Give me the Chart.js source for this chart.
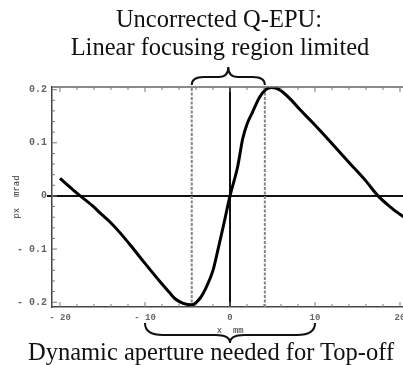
<!DOCTYPE html>
<html>
<head>
<meta charset="utf-8">
<script src="https://cdn.jsdelivr.net/npm/chart.js@4/dist/chart.umd.min.js"></script>
<style>
  html, body { margin: 0; padding: 0; background: #fff; }
  #wrap { position: relative; width: 403px; height: 365px; overflow: hidden; }
  #chart { position: absolute; left: 0; top: 0; }
  .note { position: absolute; width: 0; font-family: "Liberation Serif", "Times New Roman", serif; font-size: 24.5px; line-height: 28px; color: #111; white-space: nowrap; }
  .note span { position: absolute; transform: translateX(-50%); }
</style>
</head>
<body>
<div id="wrap">
  <canvas id="chart" width="440" height="365"></canvas>
  <div class="note" style="top:5px; left:219px;"><span>Uncorrected Q-EPU:</span></div>
  <div class="note" style="top:33px; left:220px;"><span>Linear focusing region limited</span></div>
  <div class="note" style="top:338px; left:211px;"><span>Dynamic aperture needed for Top-off</span></div>
</div>
<script>
// valeurs
const curveX = [-20, -18.5, -17.6, -16, -15.3, -14, -12.9, -11.4, -10, -8.2, -7, -6.5, -5.5, -4.5, -3.5, -2.8, -2, -1.4, -0.8, 0, 0.9, 1.5, 2.0, 2.6, 3.5, 4.2, 4.9, 5.8, 7.3, 8.2, 9.6, 11, 12.2, 14, 16.1, 17.3, 18.8, 20.2, 21];
const curveY = [0.033, 0.012, 0, -0.021, -0.032, -0.051, -0.07, -0.099, -0.127, -0.162, -0.184, -0.193, -0.202, -0.205, -0.192, -0.172, -0.14, -0.1, -0.058, 0, 0.055, 0.108, 0.135, 0.156, 0.186, 0.2, 0.204, 0.2, 0.179, 0.163, 0.14, 0.116, 0.095, 0.063, 0.026, 0.002, -0.02, -0.037, -0.045];
const dashedX = [-4.5, 4.1];       // zone linéaire (accolade du haut)
const apertureX = [-10, 10];       // ouverture dynamique (accolade du bas)
const xTicks = [-20, -10, 0, 10, 20];
const yTicks = [-0.2, -0.1, 0, 0.1, 0.2];
const xRange = [-20.94, 21];
const yRange = [-0.209, 0.205];

const curve = curveX.map((x, i) => ({ x: x, y: curveY[i] }));

const fmt = v => v === 0 ? '0' : (v < 0 ? '- ' + Math.abs(v) : String(v));

// petite fonction pour l'accolade horizontale
function brace(ctx, x1, x2, yEnd, yBar, yTip) {
  const xm = (x1 + x2) / 2;
  const r = Math.abs(yBar - yEnd);
  ctx.beginPath();
  ctx.moveTo(x1, yEnd);
  ctx.quadraticCurveTo(x1, yBar, x1 + r * 1.5, yBar);
  ctx.lineTo(xm - r * 1.2, yBar);
  ctx.quadraticCurveTo(xm, yBar, xm, yTip);
  ctx.quadraticCurveTo(xm, yBar, xm + r * 1.2, yBar);
  ctx.lineTo(x2 - r * 1.5, yBar);
  ctx.quadraticCurveTo(x2, yBar, x2, yEnd);
  ctx.stroke();
}

const framePlugin = {
  id: 'frame',
  afterDraw(chart) {
    const { ctx, chartArea: a, scales: { x, y } } = chart;
    ctx.save();
    // cadre haut et droit
    ctx.strokeStyle = '#666';
    ctx.lineWidth = 1.5;
    ctx.beginPath();
    ctx.moveTo(a.left, a.top);
    ctx.lineTo(a.right, a.top);
    ctx.lineTo(a.right, a.bottom);
    ctx.stroke();
    // graduations internes
    ctx.strokeStyle = '#777';
    ctx.lineWidth = 1;
    ctx.beginPath();
    for (let v = -20; v <= 20.01; v += 2) {
      const px = x.getPixelForValue(v);
      const len = Math.abs(v % 10) < 0.01 ? 5 : 3;
      ctx.moveTo(px, a.bottom); ctx.lineTo(px, a.bottom - len);
      ctx.moveTo(px, a.top); ctx.lineTo(px, a.top + len);
    }
    for (let k = -10; k <= 10; k++) {
      const py = y.getPixelForValue(k * 0.02);
      const len = k % 5 === 0 ? 5 : 3;
      ctx.moveTo(a.left, py); ctx.lineTo(a.left + len, py);
    }
    ctx.stroke();
    // accolades
    ctx.strokeStyle = '#111';
    ctx.lineWidth = 2;
    brace(ctx, x.getPixelForValue(dashedX[0]), x.getPixelForValue(dashedX[1]), a.top - 2, a.top - 10, a.top - 20);
    brace(ctx, x.getPixelForValue(apertureX[0]), x.getPixelForValue(apertureX[1]), 323, 335, 343);
    ctx.restore();
  }
};

const monoFont = { family: '"Liberation Mono", "DejaVu Sans Mono", monospace', size: 10, weight: 'bold' };

new Chart(document.getElementById('chart'), {
  type: 'line',
  data: {
    datasets: [
      {
        data: curve,
        borderColor: '#000',
        borderWidth: 3,
        pointRadius: 0,
        cubicInterpolationMode: 'monotone',
        fill: false
      },
      ...dashedX.map(v => ({
        data: [{ x: v, y: yRange[0] }, { x: v, y: yRange[1] }],
        borderColor: '#858585',
        borderWidth: 2,
        borderDash: [3, 1.5],
        pointRadius: 0,
        fill: false
      }))
    ]
  },
  options: {
    responsive: false,
    animation: false,
    devicePixelRatio: 1,
    layout: { padding: { top: 87, right: 31.5, left: 0, bottom: 0 } },
    plugins: { legend: { display: false }, tooltip: { enabled: false } },
    scales: {
      x: {
        type: 'linear',
        min: xRange[0],
        max: xRange[1],
        afterBuildTicks: s => { s.ticks = xTicks.map(v => ({ value: v })); },
        afterFit: s => { s.height = 58; },
        ticks: { callback: fmt, font: { ...monoFont, size: 9 }, color: '#666', padding: 5, maxRotation: 0, autoSkip: false },
        grid: {
          drawTicks: false,
          color: c => c.tick && c.tick.value === 0 ? '#111' : 'rgba(0,0,0,0)',
          lineWidth: 2
        },
        border: { color: '#444', width: 1.5 },
        title: { display: true, text: 'x  mm', font: { family: monoFont.family, size: 9 }, color: '#333', padding: { top: 0, bottom: 29 } }
      },
      y: {
        type: 'linear',
        min: yRange[0],
        max: yRange[1],
        afterBuildTicks: s => { s.ticks = yTicks.map(v => ({ value: v })); },
        afterFit: s => { s.width = 52; },
        ticks: { callback: fmt, font: monoFont, color: '#666', padding: 0 },
        grid: {
          drawTicks: true,
          tickLength: 5,
          color: c => c.tick && c.tick.value === 0 ? '#111' : 'rgba(0,0,0,0)',
          tickColor: c => c.tick && c.tick.value === 0 ? '#111' : 'rgba(0,0,0,0)',
          lineWidth: 2
        },
        border: { color: '#444', width: 1.5 },
        title: { display: true, text: 'px  mrad', font: { family: monoFont.family, size: 9 }, color: '#333', padding: { top: 11, bottom: 0 } }
      }
    }
  },
  plugins: [framePlugin]
});
</script>
</body>
</html>
